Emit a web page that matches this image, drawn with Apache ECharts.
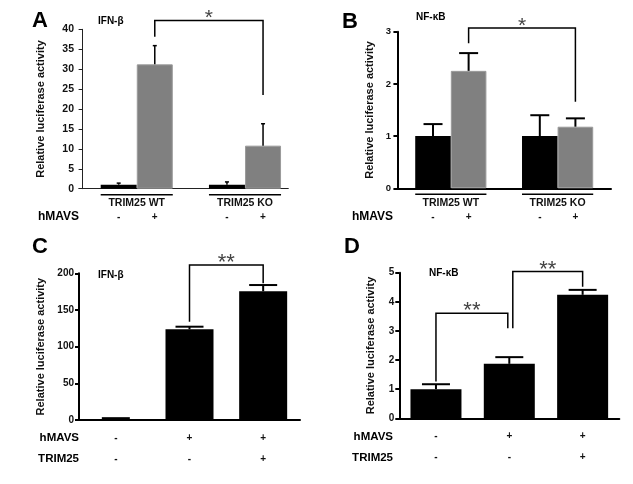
<!DOCTYPE html>
<html><head><meta charset="utf-8">
<script src="https://cdn.jsdelivr.net/npm/echarts@6/dist/echarts.min.js"></script>
<style>html,body{margin:0;padding:0;background:#fff}#c{width:633px;height:484px}</style>
</head><body><div id="c"></div>
<script>
// ---------- data ----------
// Panels A & B: two groups, hMAVS - / +
const groupsAB = ['TRIM25 WT', 'TRIM25 KO'];
const hmavsAB = ['-', '+', '-', '+'];
const slotsAB = [1, 2, 4, 5];            // bar slots (slot 3 is the gap between groups)
const groupSlotsAB = [[1, 2], [4, 5]];
const valuesA = [1.0, 31.2, 1.0, 10.8];
const errorsA = [0.4, 4.7, 0.7, 5.5];
const valuesB = [1.0, 2.25, 1.0, 1.18];
const errorsB = [0.23, 0.34, 0.40, 0.16];
// Panels C & D: three conditions
const hmavsCD = ['-', '+', '+'];
const trim25CD = ['-', '-', '+'];
const valuesC = [1.5, 123.6, 175.5];
const errorsC = [1.0, 3.6, 8.5];
const valuesD = [1.0, 1.87, 4.24];
const errorsD = [0.17, 0.23, 0.17];
// axes
const yTicksA = {min: 0, max: 40, interval: 5};
const yTicksB = {min: 0, max: 3, interval: 1};
const yTicksC = {min: 0, max: 200, interval: 50};
const yTicksD = {min: 0, max: 5, interval: 1};
// significance brackets: [from, to, top value, left leg end value, right leg end value]
const sigA = [[2, 5, 42.2, 38.1, 23.5]];
const sigB = [[2, 5, 3.07, 2.78, 1.66]];
const sigC = [[1, 2, 211.4, 134, 186.4]];
const sigD = [[0, 1, 3.61, 1.26, 3.09], [1, 2, 5.04, 3.09, 4.52]];
const sigLabelsA = ['*'];
const sigLabelsB = ['*'];
const sigLabelsC = ['**'];
const sigLabelsD = ['**', '**'];
const titles = ['IFN-\u03b2', 'NF-\u03baB', 'IFN-\u03b2', 'NF-\u03baB'];
const panelLetters = ['A', 'B', 'C', 'D'];
const yTitle = 'Relative luciferase activity';

// ---------- styles ----------
const FONT = '"Liberation Sans", Arial, sans-serif';
const BLACK = '#000000';
const GRAY = '#808080';
const dxD = [[0, -1.5], [3.5, 0]];  // pixel nudges of bracket legs in D

function errRender(capW, lw) {
  return function (params, api) {
    const x = api.value(0), y = api.value(1), e = api.value(2);
    const p0 = api.coord([x, y]), p1 = api.coord([x, y + e]);
    return {type: 'group', children: [
      {type: 'line', shape: {x1: p0[0], y1: p0[1], x2: p1[0], y2: p1[1]}, style: {stroke: BLACK, lineWidth: lw}},
      {type: 'line', shape: {x1: p1[0] - capW / 2, y1: p1[1], x2: p1[0] + capW / 2, y2: p1[1]}, style: {stroke: BLACK, lineWidth: lw}}
    ]};
  };
}
function bracketRender(labels, lw, fontSize, dx) {
  return function (params, api) {
    const i = params.dataIndex;
    const a = api.value(0), b = api.value(1), top = api.value(2), l = api.value(3), r = api.value(4);
    const d = dx ? dx[i] : [0, 0];
    const pl = api.coord([a, l]), pr = api.coord([b, r]), pt = api.coord([a, top]);
    const xl = pl[0] + d[0], xr = pr[0] + d[1];
    return {type: 'group', children: [
      {type: 'polyline', shape: {points: [[xl, pl[1]], [xl, pt[1]], [xr, pt[1]], [xr, pr[1]]]},
        style: {stroke: BLACK, lineWidth: lw, fill: null}},
      {type: 'text', style: {text: labels[i], x: (xl + xr) / 2, y: pt[1] - 2, align: 'center', verticalAlign: 'middle',
        font: fontSize + 'px ' + FONT, fill: '#444'}}
    ]};
  };
}
function groupRender(bw) {
  return function (params, api) {
    const i = params.dataIndex;
    const p1 = api.coord([api.value(0), 0]), p2 = api.coord([api.value(1), 0]);
    const x1 = p1[0] - bw / 2, x2 = p2[0] + bw / 2;
    return {type: 'group', children: [
      {type: 'line', shape: {x1: x1, y1: p1[1] + 6, x2: x2, y2: p1[1] + 6}, style: {stroke: BLACK, lineWidth: 1.5}},
      {type: 'text', style: {text: groupsAB[i], x: (x1 + x2) / 2, y: p1[1] + 14.5, align: 'center', verticalAlign: 'middle',
        font: 'bold 10.5px ' + FONT, fill: '#111'}}
    ]};
  };
}
function signRender(params, api) {
  const i = params.dataIndex;
  const p = api.coord([api.value(0), 0]);
  return {type: 'text', style: {text: hmavsAB[i], x: p[0], y: p[1] + 28.5, align: 'center', verticalAlign: 'middle',
    font: 'bold 10px ' + FONT, fill: '#111'}};
}

function yAxis(grid, ticks, lw, color, nameGap, labelSize) {
  return Object.assign({
    type: 'value', gridIndex: grid,
    name: yTitle, nameLocation: 'middle', nameGap: nameGap, nameMoveOverlap: false,
    nameTextStyle: {fontFamily: FONT, fontWeight: 'bold', fontSize: 11, color: '#111'},
    axisLine: {show: true, lineStyle: {color: color, width: lw}},
    axisTick: {show: true, inside: false, length: 4, lineStyle: {color: color, width: lw}},
    axisLabel: {margin: 5, fontFamily: FONT, fontWeight: 'bold', fontSize: labelSize, color: '#111'},
    splitLine: {show: false}
  }, ticks);
}
function xValueAxis(grid, min, max, lw, color) {
  return {type: 'value', gridIndex: grid, min: min, max: max,
    axisLine: {show: true, onZero: true, lineStyle: {color: color, width: lw}},
    axisTick: {show: false}, axisLabel: {show: false}, splitLine: {show: false}};
}
function xCatAxis(grid) {
  return {type: 'category', gridIndex: grid, boundaryGap: true,
    data: hmavsCD.map((h, i) => h + '\n' + trim25CD[i]),
    axisLine: {show: true, lineStyle: {color: BLACK, width: 2}},
    axisTick: {show: false},
    axisLabel: {margin: 7, lineHeight: 21.6, fontFamily: FONT, fontWeight: 'bold', fontSize: 10, color: '#111', interval: 0},
    splitLine: {show: false}};
}

const abBars = (vals) => slotsAB.map((s, i) => ({value: [s, vals[i]],
  itemStyle: hmavsAB[i] === '+' ? {color: GRAY, borderColor: '#9a9a9a', borderWidth: 1} : {color: BLACK}}));
const abErr = (vals, errs) => slotsAB.map((s, i) => [s, vals[i], errs[i]]);
const cdErr = (vals, errs) => vals.map((v, i) => [i, v, errs[i]]);

function txt(x, y, text, font, align) {
  return {type: 'text', x: x, y: y, style: {text: text, font: font, fill: '#000', align: align || 'left', verticalAlign: 'middle'}};
}

const chart = echarts.init(document.getElementById('c'), null, {renderer: 'canvas'});
chart.setOption({
  backgroundColor: '#ffffff',
  animation: false,
  grid: [
    {left: 79, top: 29.3, width: 209.3, height: 159.4, outerBoundsMode: 'none', containLabel: false},
    {left: 396, top: 31.7, width: 215, height: 156.6, outerBoundsMode: 'none', containLabel: false},
    {left: 79, top: 273.3, width: 221, height: 146.7, outerBoundsMode: 'none', containLabel: false},
    {left: 399.3, top: 272.7, width: 220, height: 145.6, outerBoundsMode: 'none', containLabel: false}
  ],
  xAxis: [
    xValueAxis(0, -0.1, 5.7, 1, '#222'),
    xValueAxis(1, -0.04, 6.0, 2, BLACK),
    xCatAxis(2),
    xCatAxis(3)
  ],
  yAxis: [
    yAxis(0, yTicksA, 1, '#222', 33, 10.5),
    yAxis(1, yTicksB, 2, BLACK, 21, 9.5),
    yAxis(2, yTicksC, 2, BLACK, 33, 10),
    yAxis(3, yTicksD, 2, BLACK, 22.5, 10)
  ],
  series: [
    {type: 'bar', xAxisIndex: 0, yAxisIndex: 0, barWidth: 36, data: abBars(valuesA)},
    {type: 'custom', xAxisIndex: 0, yAxisIndex: 0, renderItem: errRender(4, 1.5), data: abErr(valuesA, errorsA), z: 3},
    {type: 'custom', xAxisIndex: 0, yAxisIndex: 0, renderItem: bracketRender(sigLabelsA, 1.5, 21), data: sigA, z: 3},
    {type: 'custom', xAxisIndex: 0, yAxisIndex: 0, renderItem: groupRender(36), data: groupSlotsAB, z: 3},
    {type: 'custom', xAxisIndex: 0, yAxisIndex: 0, renderItem: signRender, data: slotsAB.map(s => [s, 0]), z: 3},

    {type: 'bar', xAxisIndex: 1, yAxisIndex: 1, barWidth: 35.6, data: abBars(valuesB)},
    {type: 'custom', xAxisIndex: 1, yAxisIndex: 1, renderItem: errRender(19, 2), data: abErr(valuesB, errorsB), z: 3},
    {type: 'custom', xAxisIndex: 1, yAxisIndex: 1, renderItem: bracketRender(sigLabelsB, 1.5, 21), data: sigB, z: 3},
    {type: 'custom', xAxisIndex: 1, yAxisIndex: 1, renderItem: groupRender(35.6), data: groupSlotsAB, z: 3},
    {type: 'custom', xAxisIndex: 1, yAxisIndex: 1, renderItem: signRender, data: slotsAB.map(s => [s, 0]), z: 3},

    {type: 'bar', xAxisIndex: 2, yAxisIndex: 2, barWidth: 48, itemStyle: {color: BLACK}, data: valuesC},
    {type: 'custom', xAxisIndex: 2, yAxisIndex: 2, renderItem: errRender(28, 2), data: cdErr(valuesC, errorsC), z: 3},
    {type: 'custom', xAxisIndex: 2, yAxisIndex: 2, renderItem: bracketRender(sigLabelsC, 1.5, 22), data: sigC, z: 3},

    {type: 'bar', xAxisIndex: 3, yAxisIndex: 3, barWidth: 51, itemStyle: {color: BLACK}, data: valuesD},
    {type: 'custom', xAxisIndex: 3, yAxisIndex: 3, renderItem: errRender(28, 2), data: cdErr(valuesD, errorsD), z: 3},
    {type: 'custom', xAxisIndex: 3, yAxisIndex: 3, renderItem: bracketRender(sigLabelsD, 1.5, 22, dxD), data: sigD, z: 3}
  ],
  graphic: [
    txt(32, 21, panelLetters[0], 'bold 22px ' + FONT),
    txt(342, 22, panelLetters[1], 'bold 22px ' + FONT),
    txt(32, 247, panelLetters[2], 'bold 22px ' + FONT),
    txt(344, 247, panelLetters[3], 'bold 22px ' + FONT),
    txt(98, 21, titles[0], 'bold 10px ' + FONT),
    txt(416, 17, titles[1], 'bold 10px ' + FONT),
    txt(98, 275, titles[2], 'bold 10px ' + FONT),
    txt(429, 273, titles[3], 'bold 10px ' + FONT),
    txt(79, 217, 'hMAVS', 'bold 12px ' + FONT, 'right'),
    txt(393, 217, 'hMAVS', 'bold 12px ' + FONT, 'right'),
    txt(79, 437.7, 'hMAVS', 'bold 11.5px ' + FONT, 'right'),
    txt(79, 459.3, 'TRIM25', 'bold 11.5px ' + FONT, 'right'),
    txt(393, 436.7, 'hMAVS', 'bold 11.5px ' + FONT, 'right'),
    txt(393, 458.3, 'TRIM25', 'bold 11.5px ' + FONT, 'right')
  ]
});
</script>
</body></html>
